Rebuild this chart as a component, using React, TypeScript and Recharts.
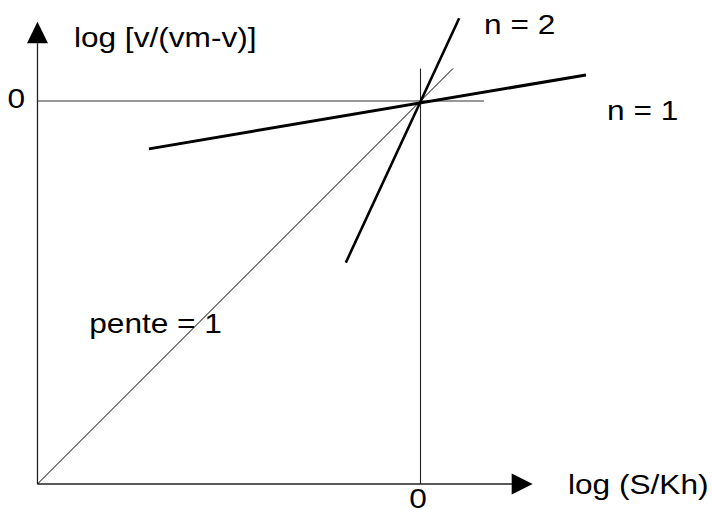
import React from "react";
import { ComposedChart, Scatter, XAxis, YAxis, ReferenceLine } from "recharts";

// Hill plot: log [v/(vm-v)] vs log (S/Kh)
const hillN1 = [
  { x: -0.709, y: -0.125 },
  { x: 0.432, y: 0.068 },
];
const hillN2 = [
  { x: -0.195, y: -0.422 },
  { x: 0.101, y: 0.216 },
];
const slopeOne = [
  { x: -1, y: -1 },
  { x: 0.085, y: 0.085 },
];

const axisOrigin = { x: -1, y: -1 };
const xAxisEnd = 0.239;
const yAxisEnd = 0.151;
const arrowTips = [
  { x: -1, y: 0.207, dir: "up" },
  { x: 0.293, y: -1, dir: "right" },
];
const zeroGuideX = 0.166; // end of the y = 0 line
const zeroGuideY = 0.085; // end of the x = 0 line

const xTicks = [{ x: 0, y: -1, text: "0", kind: "x" }];
const yTicks = [{ x: -1, y: 0, text: "0", kind: "y" }];

const notes = [
  { x: -0.905, y: 0.142, text: "log [v/(vm-v)]" },
  { x: 0.385, y: -1.026, text: "log (S/Kh)" },
  { x: 0.166, y: 0.175, text: "n = 2" },
  { x: 0.487, y: -0.049, text: "n = 1" },
  { x: -0.865, y: -0.606, text: "pente = 1" },
];

const FONT = "Arial, 'Liberation Sans', sans-serif";
const SIZE = 28;
const STRETCH = 1.13;

const NoteText = (props: any) => {
  const { cx, cy, payload } = props;
  return (
    <text
      transform={`translate(${cx},${cy}) scale(${STRETCH},1)`}
      fontSize={SIZE}
      fontFamily={FONT}
      fill="#000"
    >
      {payload.text}
    </text>
  );
};

const TickText = (props: any) => {
  const { cx, cy, payload } = props;
  const isX = payload.kind === "x";
  const tx = isX ? cx - 2.5 : cx - 12.5;
  const ty = isX ? cy + 24 : cy + 7.5;
  return (
    <text
      transform={`translate(${tx},${ty}) scale(${STRETCH},1)`}
      fontSize={SIZE}
      fontFamily={FONT}
      textAnchor={isX ? "middle" : "end"}
      fill="#000"
    >
      {payload.text}
    </text>
  );
};

const Arrow = (props: any) => {
  const { cx, cy, payload } = props;
  const pts =
    payload.dir === "up"
      ? `${cx},${cy} ${cx - 10.5},${cy + 21.5} ${cx + 10.5},${cy + 21.5}`
      : `${cx},${cy} ${cx - 21},${cy - 10.5} ${cx - 21},${cy + 10.5}`;
  return <polygon points={pts} fill="#000" />;
};

const NoPoint = () => <g />;

export default function App() {
  return (
    <div style={{ position: "absolute", left: 0, top: 0, background: "#fff" }}>
      <ComposedChart width={712} height={510} margin={{ top: 0, right: 0, bottom: 0, left: 0 }}>
        <XAxis
          type="number"
          dataKey="x"
          domain={[-1.0979, 0.7611]}
          allowDataOverflow
          hide
        />
        <YAxis
          type="number"
          dataKey="y"
          domain={[-1.0679, 0.2637]}
          allowDataOverflow
          hide
        />

        {/* axes */}
        <ReferenceLine
          segment={[axisOrigin, { x: axisOrigin.x, y: yAxisEnd }]}
          stroke="#222"
          strokeWidth={1.3}
          ifOverflow="visible"
        />
        <ReferenceLine
          segment={[axisOrigin, { x: xAxisEnd, y: axisOrigin.y }]}
          stroke="#222"
          strokeWidth={1.3}
          ifOverflow="visible"
        />
        {/* zero guides */}
        <ReferenceLine
          segment={[{ x: axisOrigin.x, y: 0 }, { x: zeroGuideX, y: 0 }]}
          stroke="#333"
          strokeWidth={1.2}
          ifOverflow="visible"
        />
        <ReferenceLine
          segment={[{ x: 0, y: axisOrigin.y }, { x: 0, y: zeroGuideY }]}
          stroke="#222"
          strokeWidth={1.1}
          ifOverflow="visible"
        />

        <Scatter
          data={slopeOne}
          dataKey="y"
          line={{ stroke: "#000", strokeWidth: 1 }}
          shape={NoPoint}
          isAnimationActive={false}
        />
        <Scatter
          data={hillN1}
          dataKey="y"
          line={{ stroke: "#000", strokeWidth: 3 }}
          shape={NoPoint}
          isAnimationActive={false}
        />
        <Scatter
          data={hillN2}
          dataKey="y"
          line={{ stroke: "#000", strokeWidth: 2.6 }}
          shape={NoPoint}
          isAnimationActive={false}
        />

        <Scatter data={arrowTips} dataKey="y" shape={Arrow} isAnimationActive={false} />
        <Scatter data={[...xTicks, ...yTicks]} dataKey="y" shape={TickText} isAnimationActive={false} />
        <Scatter data={notes} dataKey="y" shape={NoteText} isAnimationActive={false} />
      </ComposedChart>
    </div>
  );
}
